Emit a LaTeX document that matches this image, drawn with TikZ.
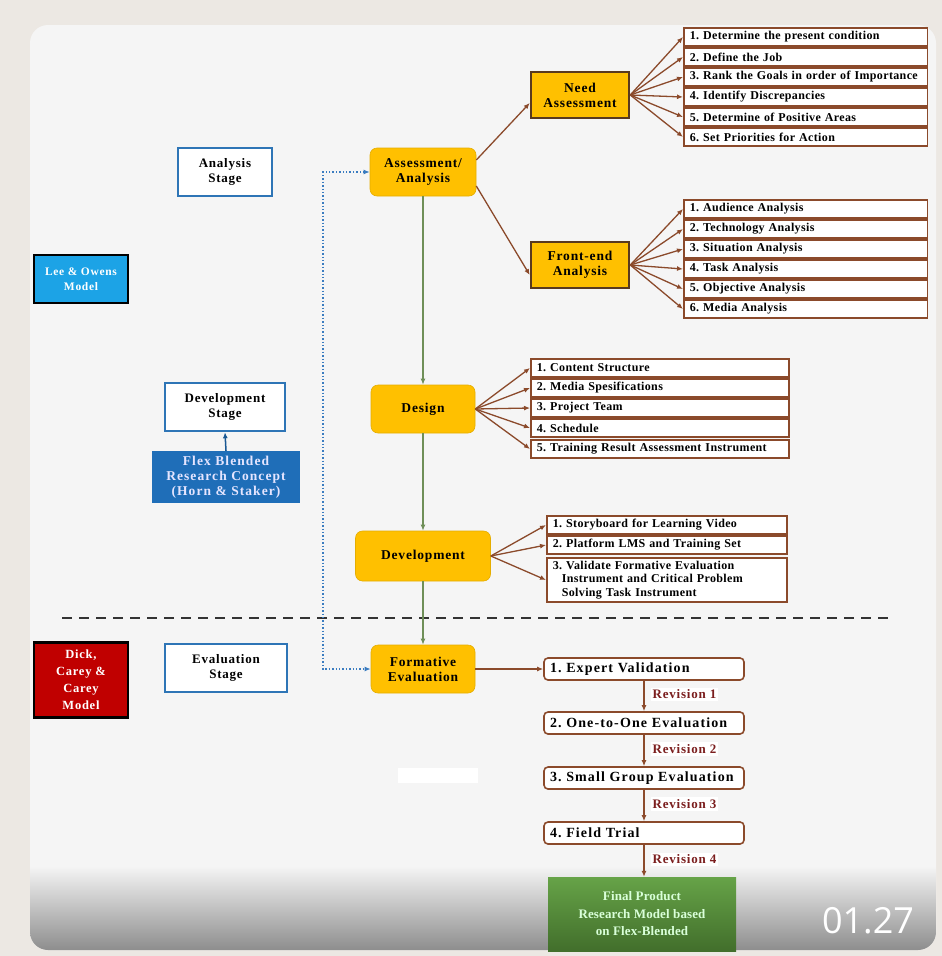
\documentclass[tikz,border=0pt]{standalone}
\usepackage{fontspec}
\setmainfont{Liberation Serif}
\newfontfamily\numfont{Open Sans}
\usetikzlibrary{arrows.meta}
\frenchspacing
\definecolor{bgout}{HTML}{ECE8E3}
\definecolor{card}{HTML}{F5F5F5}
\definecolor{yel}{HTML}{FFC000}
\definecolor{brn}{HTML}{8B4A2B}
\definecolor{dbrn}{HTML}{5A3A1E}
\definecolor{stblue}{HTML}{2E75B6}
\definecolor{cyanb}{HTML}{1CA3E6}
\definecolor{flexb}{HTML}{1F6EB8}
\definecolor{dred}{HTML}{C00000}
\definecolor{grn}{HTML}{6F8F58}
\definecolor{revred}{HTML}{7B1E1E}
\definecolor{fgreen}{HTML}{5E9E3E}
\definecolor{dotb}{HTML}{3A7CC0}
\newcommand\fsz[3]{\bfseries\fontsize{#1}{#2}\selectfont\addfontfeatures{LetterSpace=#3}}
\tikzset{
  txt/.style={font=\fsz{13.5}{15}{6}, align=center},
  stagebox/.style={txt, font=\fsz{13}{15}{6}, draw=stblue, line width=2.5pt, fill=white, minimum height=48pt},
  modelbox/.style={txt, font=\fsz{11.5}{14.5}{6}, draw=black, line width=2.5pt, text=white, minimum width=94pt},
  hub/.style={txt, fill=yel, draw=yel!90!black, line width=0.6pt, rounded corners=7pt, minimum height=48pt},
  hubsq/.style={txt, fill=yel, draw=dbrn, line width=2.5pt, minimum width=98pt, minimum height=46pt},
  listbox/.style={font=\fsz{12}{13.5}{3}, align=left, anchor=west, draw=brn, line width=1.6pt, fill=white, minimum height=18pt, inner xsep=6pt, inner ysep=1pt, text width=#1},
  evbox/.style={font=\fsz{14}{15}{8}, anchor=center, draw=brn, line width=1.6pt, fill=white, rounded corners=4pt, minimum width=200pt, minimum height=22pt, inner xsep=5pt, align=left, text width=188pt},
  barr/.style={draw=brn, line width=1.3pt, -{Latex[length=6pt,width=5pt]}},
  garr/.style={draw=grn, line width=1.5pt, -{Latex[length=6pt,width=5pt]}},
  revlab/.style={font=\fsz{13}{14}{6}, text=revred, fill=white, anchor=west, inner sep=2pt}
}
\begin{document}
\begin{tikzpicture}[x=1pt,y=-1pt]
\useasboundingbox (0,0) rectangle (942,956);
\fill[bgout] (0,0) rectangle (942,956);
\fill[card, rounded corners=18pt] (30,25) rectangle (936,950);
\begin{scope}
  \clip[rounded corners=18pt] (30,25) rectangle (936,950);
  \shade[top color=card, bottom color=black!45] (30,866) rectangle (936,951);
\end{scope}

% left column
\node[stagebox, minimum width=94pt] (ast) at (225,172) {Analysis\\Stage};
\node[modelbox, fill=cyanb, minimum height=48pt] (lee) at (81,279) {Lee \& Owens\\Model};
\node[stagebox, minimum width=120pt] (dst) at (225,407) {Development\\Stage};
\node[txt, fill=flexb, text=white!90!blue, minimum width=148pt, minimum height=52pt, font=\fsz{13.5}{15}{8}] (flex) at (226,477) {Flex Blended\\Research Concept\\(Horn \& Staker)};
\draw[draw=flexb!80!black, line width=1.5pt, -{Latex[length=6pt,width=5pt]}] (flex.north) -- (dst.south);
\node[modelbox, fill=dred, minimum height=75pt, font=\fsz{12.5}{17}{6}] (dick) at (81,680) {Dick,\\Carey \&\\Carey\\Model};
\node[stagebox, minimum width=122pt] (est) at (226,668) {Evaluation\\Stage};

% dashed separator
\coordinate (dl) at (62,618);
\coordinate (dr) at (888,618);
\draw[black!80, line width=2pt, dash pattern=on 10pt off 7pt] (dl) -- (dr);

% hubs
\node[hub, minimum width=106pt] (aa) at (423,172) {Assessment/\\Analysis};
\node[hub, minimum width=104pt] (des) at (423,409) {Design};
\node[hub, minimum width=135pt, minimum height=50pt] (dev) at (423,556) {Development};
\node[hub, minimum width=104pt] (fe) at (423,669) {Formative\\Evaluation};
\node[hubsq] (need) at (580,95) {Need\\Assessment};
\node[hubsq] (front) at (580,265) {Front-end\\Analysis};

% dotted blue connector
\coordinate (dtop) at (323,172);
\coordinate (dbot) at (323,669);
\draw[dotb, line width=1.4pt, dotted, {Latex[length=6pt,width=5pt]}-{Latex[length=6pt,width=5pt]}] (aa.west) -- (dtop) -- (dbot) -- (fe.west);

% green flow
\draw[garr] (aa) -- (des);
\draw[garr] (des) -- (dev);
\draw[garr] (dev) -- (fe);

\draw[barr] ([yshift=12pt]aa.east) -- ([yshift=-8pt]need.west);
\draw[barr] ([yshift=-14pt]aa.east) -- ([yshift=-10pt]front.west);

% need list
\foreach \i/\y/\t in {1/37/{1. Determine the present condition},2/57/{2. Define the Job},3/77/{3. Rank the Goals in order of Importance},4/97/{4. Identify Discrepancies},5/117/{5. Determine of Positive Areas},6/137/{6. Set Priorities for Action}}{
  \node[listbox=231.5pt] (n\i) at (683,\y) {\t};
  \draw[barr] (need.east) -- (n\i.west);
}
% front-end list
\foreach \i/\y/\t in {1/209/{1. Audience Analysis},2/229/{2. Technology Analysis},3/249/{3. Situation Analysis},4/269/{4. Task Analysis},5/289/{5. Objective Analysis},6/309/{6. Media Analysis}}{
  \node[listbox=231.5pt] (f\i) at (683,\y) {\t};
  \draw[barr] (front.east) -- (f\i.west);
}
% design list
\foreach \i/\y/\t in {1/368/{1. Content Structure},2/388/{2. Media Spesifications},3/408/{3. Project Team},4/428/{4. Schedule},5/449/{5. Training Result Assessment Instrument}}{
  \node[listbox=246pt] (d\i) at (530,\y) {\t};
  \draw[barr] (des.east) -- (d\i.west);
}
% development list
\node[listbox=228pt] (v1) at (546,525) {1. Storyboard for Learning Video};
\node[listbox=228pt] (v2) at (546,545) {2. Platform LMS and Training Set};
\node[listbox=228pt, inner ysep=3pt] (v3) at (546,580) {3. Validate Formative Evaluation\\\hspace*{9pt}Instrument and Critical Problem\\\hspace*{9pt}Solving Task Instrument};
\foreach \i in {1,2,3}{\draw[barr] (dev.east) -- (v\i.west);}

% evaluation sequence
\node[evbox] (e1) at (644,669) {1. Expert Validation};
\node[evbox] (e2) at (644,723) {2. One-to-One Evaluation};
\node[evbox] (e3) at (644,778) {3. Small Group Evaluation};
\node[evbox] (e4) at (644,833) {4. Field Trial};
\draw[barr] (fe.east) -- (e1.west);
\draw[barr] (e1.south) -- (e2.north) node[revlab, pos=0.45, xshift=6pt] {Revision 1};
\draw[barr] (e2.south) -- (e3.north) node[revlab, pos=0.45, xshift=6pt] {Revision 2};
\draw[barr] (e3.south) -- (e4.north) node[revlab, pos=0.45, xshift=6pt] {Revision 3};

\fill[white] (398,768) rectangle (478,783);

\node[txt, text=white!85!green, top color=fgreen!95!white, bottom color=fgreen!70!black, minimum width=188pt, minimum height=74pt, font=\fsz{13}{17.5}{1}] (fin) at (642,914) {Final Product\\Research Model based\\on Flex-Blended};
\draw[barr] (e4.south) -- (e4.south |- fin.north) node[revlab, pos=0.45, xshift=6pt] {Revision 4};

\node[text=white, font=\numfont\fontsize{36}{36}\selectfont] (num) at (868,921) {01.27};
\end{tikzpicture}
\end{document}
